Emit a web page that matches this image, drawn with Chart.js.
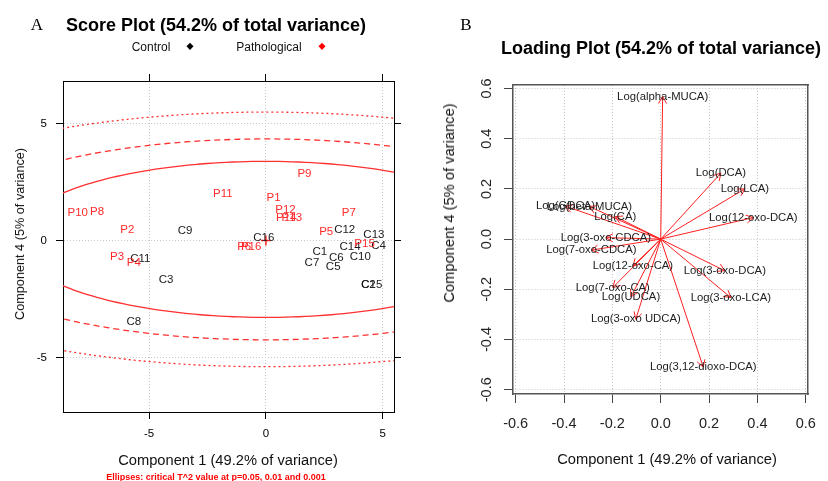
<!DOCTYPE html>
<html>
<head>
<meta charset="utf-8">
<script src="https://cdn.jsdelivr.net/npm/chart.js@4.4.0/dist/chart.umd.min.js"></script>
<style>
  body { margin: 0; width: 828px; height: 481px; background: #fff; position: relative; overflow: hidden;
         font-family: 'Liberation Sans', Arial, sans-serif; }
  canvas { position: absolute; top: 0; }
  #score { left: 0; }
  #load { left: 414px; }
  .t { position: absolute; transform: translate(-50%, -50%); white-space: nowrap; color: #111; line-height: normal; }
  .rot { transform: translate(-50%, -50%) rotate(-90deg); }
  .panel { font-family: 'Liberation Serif', 'Times New Roman', serif; font-size: 17px; color: #000; }
  .title { font-weight: bold; font-size: 18px; color: #000; }
  .dia { position: absolute; width: 4.5px; height: 4.5px; transform: translate(-50%, -50%) rotate(45deg); }
</style>
</head>
<body>
<canvas id="score" width="414" height="481"></canvas>
<canvas id="load" width="414" height="481"></canvas>

<div class="t panel" style="left:37px; top:25px;">A</div>
<div class="t panel" style="left:466px; top:25px;">B</div>
<div class="t title" style="left:216px; top:25px;">Score Plot (54.2% of total variance)</div>
<div class="t title" style="left:661px; top:48px;">Loading Plot (54.2% of total variance)</div>

<div class="t" style="left:151px; top:47px; font-size:12px;">Control</div>
<div class="dia" style="left:190px; top:46px; background:#000;"></div>
<div class="t" style="left:269px; top:47px; font-size:12px;">Pathological</div>
<div class="dia" style="left:322px; top:46px; background:#f00;"></div>

<div class="t" style="left:228px; top:460px; font-size:14.7px;">Component 1 (49.2% of variance)</div>
<div class="t" style="left:216px; top:477px; font-size:9px; font-weight:bold; color:#f00;">Ellipses: critical T^2 value at p=0.05, 0.01 and 0.001</div>
<div class="t rot" style="left:20px; top:234px; font-size:12.7px;">Component 4 (5% of variance)</div>

<div class="t" style="left:667px; top:459px; font-size:14.7px;">Component 1 (49.2% of variance)</div>
<div class="t rot" style="left:449px; top:203px; font-size:14.7px;">Component 4 (5% of variance)</div>

<script>
const FONT = "'Liberation Sans', Arial, sans-serif";

// score plot: control samples
const ctrlNames = ['C1','C2','C3','C4','C5','C6','C7','C8','C9','C10','C11','C12','C13','C14','C15','C16'];
const ctrlX = [2.31, 4.38, -4.27, 4.82, 2.88, 3.01, 1.97, -5.65, -3.46, 4.04, -5.37, 3.37, 4.62, 3.60, 4.53, -0.09];
const ctrlY = [-0.49, -1.88, -1.70, -0.24, -1.13, -0.74, -0.96, -3.47, 0.41, -0.68, -0.77, 0.44, 0.26, -0.26, -1.88, 0.11];

// score plot: pathological samples
const pathNames = ['P1','P2','P3','P4','P5','P6','P7','P8','P9','P10','P11','P12','P13','P14','P15','P16'];
const pathX = [0.33, -5.93, -6.37, -5.65, 2.58, -0.93, 3.55, -7.22, 1.65, -8.05, -1.84, 0.84, 1.11, 0.87, 4.22, -0.63];
const pathY = [1.81, 0.47, -0.70, -0.96, 0.39, -0.29, 1.19, 1.24, 2.85, 1.19, 2.00, 1.33, 0.97, 0.97, -0.13, -0.29];

// T^2 ellipses (p = 0.05, 0.01, 0.001): semi-axes and centre
const ellipseA = [10.8, 14.2, 17.8];
const ellipseB = [3.34, 4.3, 5.45];
const ellipseCenter = [0, 0.05];
const scoreTicks = [-5, 0, 5];

// loading plot
const loadNames = ['Log(alpha-MUCA)','Log(DCA)','Log(LCA)','Log(12-oxo-DCA)','Log(GDCA)','Log(beta-MUCA)',
  'Log(CA)','Log(3-oxo-CDCA)','Log(7-oxo-CDCA)','Log(12-oxo-CA)','Log(3-oxo-DCA)','Log(7-oxo-CA)',
  'Log(UDCA)','Log(3-oxo-LCA)','Log(3-oxo UDCA)','Log(3,12-dioxo-DCA)'];
const loadX = [0.008, 0.249, 0.348, 0.383, -0.394, -0.295, -0.188, -0.227, -0.287, -0.115, 0.265, -0.198, -0.123, 0.290, -0.103, 0.176];
const loadY = [0.568, 0.263, 0.200, 0.086, 0.131, 0.130, 0.090, 0.006, -0.044, -0.107, -0.126, -0.193, -0.230, -0.233, -0.319, -0.510];
const loadTicks = [-0.6, -0.4, -0.2, 0, 0.2, 0.4, 0.6];

function ellipsePoints(a, b) {
  const pts = [];
  for (let i = 0; i <= 240; i++) {
    const t = i / 240 * 2 * Math.PI;
    pts.push({ x: ellipseCenter[0] + a * Math.cos(t), y: ellipseCenter[1] + b * Math.sin(t) });
  }
  return pts;
}

// draws the sample / variable names at their data positions
const nameLabels = {
  id: 'nameLabels',
  afterDatasetsDraw(chart) {
    const ctx = chart.ctx;
    chart.data.datasets.forEach((ds, i) => {
      if (!ds.names) return;
      const pts = chart.getDatasetMeta(i).data;
      ctx.save();
      ctx.font = ds.labelFont;
      ctx.fillStyle = ds.labelColor;
      ctx.textAlign = 'center';
      ctx.textBaseline = 'middle';
      pts.forEach((p, j) => { if (ds.names[j]) ctx.fillText(ds.names[j], p.x, p.y); });
      ctx.restore();
    });
  }
};

// arrow heads on the loading vectors
const arrowHeads = {
  id: 'arrowHeads',
  afterDatasetsDraw(chart) {
    const ctx = chart.ctx;
    ctx.save();
    ctx.strokeStyle = '#ff2020';
    ctx.lineWidth = 1;
    chart.data.datasets.forEach((ds, i) => {
      if (!ds.arrow) return;
      const [p0, p1] = chart.getDatasetMeta(i).data;
      const ang = Math.atan2(p1.y - p0.y, p1.x - p0.x);
      const len = 8, spread = Math.PI / 6;
      ctx.beginPath();
      ctx.moveTo(p1.x - len * Math.cos(ang - spread), p1.y - len * Math.sin(ang - spread));
      ctx.lineTo(p1.x, p1.y);
      ctx.lineTo(p1.x - len * Math.cos(ang + spread), p1.y - len * Math.sin(ang + spread));
      ctx.stroke();
    });
    ctx.restore();
  }
};

const fixTicks = vals => s => { s.ticks = vals.map(v => ({ value: v })); };

// ---------- Score plot ----------
const ellipseDash = [[], [6, 4], [2, 3]];
const scoreSets = ellipseA.map((a, k) => ({
  data: ellipsePoints(a, ellipseB[k]),
  showLine: true, pointRadius: 0, borderColor: '#ff3030', borderWidth: 1.3,
  borderDash: ellipseDash[k], tension: 0
}));
scoreSets.push({
  data: ctrlX.map((x, i) => ({ x: x, y: ctrlY[i] })),
  pointRadius: 0, names: ctrlNames, labelFont: '11.5px ' + FONT, labelColor: '#1a1a1a'
});
scoreSets.push({
  data: pathX.map((x, i) => ({ x: x, y: pathY[i] })),
  pointRadius: 0, names: pathNames, labelFont: '11.5px ' + FONT, labelColor: '#ff2a2a'
});
scoreSets.push({
  data: [{ x: 0, y: 0 }],
  pointStyle: 'cross', pointRadius: 5, borderColor: '#ff2020', borderWidth: 1.5
});

new Chart(document.getElementById('score'), {
  type: 'scatter',
  data: { datasets: scoreSets },
  options: {
    responsive: false, animation: false,
    layout: { padding: { top: 81, right: 20, left: 0, bottom: 0 }, autoPadding: false },
    plugins: { legend: { display: false }, tooltip: { enabled: false } },
    scales: {
      x: {
        min: -8.68, max: 5.48,
        afterBuildTicks: fixTicks(scoreTicks),
        afterFit: s => { s.height = 69; },
        grid: { color: '#c8c8c8', tickColor: '#000', tickLength: 7 },
        border: { color: '#000', width: 1, dash: [1, 2] },
        ticks: { color: '#000', font: { family: FONT, size: 11.5 }, padding: 8, maxRotation: 0, autoSkip: false }
      },
      y: {
        min: -7.34, max: 6.83,
        afterBuildTicks: fixTicks(scoreTicks),
        afterFit: s => { s.width = 63; },
        grid: { color: '#c8c8c8', tickColor: '#000', tickLength: 7 },
        border: { color: '#000', width: 1, dash: [1, 2] },
        ticks: { color: '#000', font: { family: FONT, size: 11.5 }, padding: 9, autoSkip: false }
      },
      x2: {
        display: true, position: 'top', min: -8.68, max: 5.48,
        afterBuildTicks: fixTicks(scoreTicks),
        afterFit: s => { s.height = 0; },
        grid: { drawOnChartArea: false, tickColor: '#000', tickLength: 7 },
        border: { color: '#000', width: 1 },
        ticks: { display: false }
      },
      y2: {
        display: true, position: 'right', min: -7.34, max: 6.83,
        afterBuildTicks: fixTicks(scoreTicks),
        afterFit: s => { s.width = 0; },
        grid: { drawOnChartArea: false, tickColor: '#000', tickLength: 7 },
        border: { color: '#000', width: 1 },
        ticks: { display: false }
      }
    }
  },
  plugins: [nameLabels]
});

// ---------- Loading plot ----------
const loadSets = loadNames.map((n, i) => ({
  data: [{ x: 0, y: 0 }, { x: loadX[i], y: loadY[i] }],
  showLine: true, pointRadius: 0, borderColor: '#ff2020', borderWidth: 1,
  arrow: true, names: ['', n], labelFont: '11.3px ' + FONT, labelColor: '#222'
}));

new Chart(document.getElementById('load'), {
  type: 'scatter',
  data: { datasets: loadSets },
  options: {
    responsive: false, animation: false,
    layout: { padding: { top: 85, right: 7, left: 0, bottom: 0 }, autoPadding: false },
    plugins: { legend: { display: false }, tooltip: { enabled: false } },
    scales: {
      x: {
        min: -0.611, max: 0.61,
        afterBuildTicks: fixTicks(loadTicks),
        afterFit: s => { s.height = 87; },
        grid: { color: '#c8c8c8', tickColor: '#444', tickLength: 9 },
        border: { color: '#555', width: 1.5, dash: [1, 2] },
        ticks: { color: '#222', font: { family: FONT, size: 14.5 }, padding: 12, maxRotation: 0, autoSkip: false,
                 callback: v => v.toFixed(1) }
      },
      y: {
        min: -0.617, max: 0.614,
        afterBuildTicks: fixTicks(loadTicks),
        afterFit: s => { s.width = 99; },
        grid: { color: '#c8c8c8', tickColor: '#444', tickLength: 9 },
        border: { color: '#555', width: 1.5, dash: [1, 2] },
        ticks: { color: '#222', font: { family: FONT, size: 14.5 }, padding: 5, autoSkip: false,
                 minRotation: 90, maxRotation: 90, crossAlign: 'center',
                 callback: v => v.toFixed(1) }
      },
      x2: {
        display: true, position: 'top', min: -0.611, max: 0.61,
        afterBuildTicks: fixTicks(loadTicks),
        afterFit: s => { s.height = 0; },
        grid: { drawOnChartArea: false, drawTicks: false },
        border: { color: '#555', width: 1.5 },
        ticks: { display: false }
      },
      y2: {
        display: true, position: 'right', min: -0.617, max: 0.614,
        afterBuildTicks: fixTicks(loadTicks),
        afterFit: s => { s.width = 0; },
        grid: { drawOnChartArea: false, drawTicks: false },
        border: { color: '#555', width: 1.5 },
        ticks: { display: false }
      }
    }
  },
  plugins: [arrowHeads, nameLabels]
});
</script>
</body>
</html>
